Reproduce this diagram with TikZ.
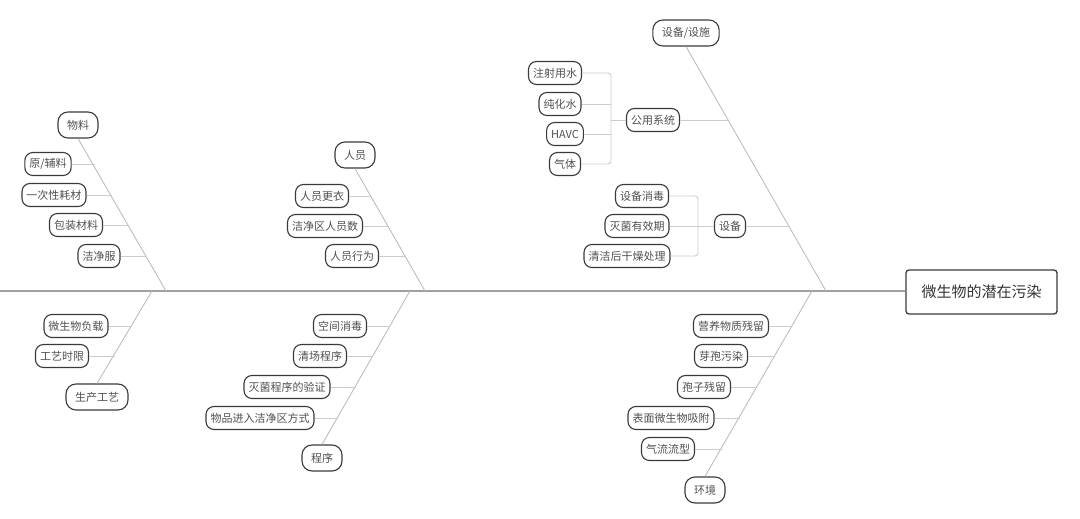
\documentclass[tikz,border=0pt]{standalone}
\usepackage{fontspec}
\setmainfont{Noto Sans CJK SC}
\definecolor{boxline}{HTML}{3A3A3A}
\definecolor{inkgray}{HTML}{505050}
\definecolor{spinegray}{HTML}{A0A0A0}
\definecolor{bonegray}{HTML}{BDBDBD}
\definecolor{twiggray}{HTML}{CCCCCC}
\tikzset{
  leaf/.style={draw=boxline, line width=1.1pt, rounded corners=8pt, minimum height=23pt,
    inner xsep=4.5pt, text=inkgray, font=\fontsize{11}{12}\selectfont},
  cause/.style={leaf, minimum height=26pt, inner xsep=9pt, rounded corners=10pt},
  bone/.style={draw=bonegray, line width=0.9pt},
  twig/.style={draw=twiggray, line width=0.9pt},
  spine/.style={draw=spinegray, line width=2.8pt}
}
\begin{document}
\begin{tikzpicture}[x=1pt,y=-1pt]
\useasboundingbox (0,0) rectangle (1080,519);
% head and spine
\node[draw=boxline, line width=1.3pt, rounded corners=3pt, minimum width=151pt, minimum height=44pt,
  text=black!80, font=\fontsize{15}{16}\selectfont] (head) at (981.5,292) {微生物的潜在污染};
\coordinate (tail) at (0,291);
\draw[spine] (tail) -- (head.west |- tail);
\coordinate (s1) at (166,291);
\coordinate (s2) at (152,291);
\coordinate (s3) at (425,291);
\coordinate (s4) at (410,291);
\coordinate (s5) at (826,291);
\coordinate (s6) at (812,291);
% material
\node[cause] (wl) at (78,125) {物料};
\draw[bone] (wl.south) -- (s1);
\node[leaf] (wl1) at (48,164) {原/辅料};      \coordinate (wl1b) at (94.6,164);  \draw[twig] (wl1) -- (wl1b);
\node[leaf] (wl2) at (54,195) {一次性耗材};   \coordinate (wl2b) at (112,195);   \draw[twig] (wl2) -- (wl2b);
\node[leaf] (wl3) at (76,225) {包装材料};     \coordinate (wl3b) at (129,225);   \draw[twig] (wl3) -- (wl3b);
\node[leaf] (wl4) at (99,256) {洁净服};       \coordinate (wl4b) at (146,256);   \draw[twig] (wl4) -- (wl4b);
% process
\node[cause] (gy) at (97,397) {生产工艺};
\draw[bone] (s2) -- (gy.north);
\node[leaf] (gy1) at (76,326) {微生物负载};   \coordinate (gy1b) at (132,326);   \draw[twig] (gy1) -- (gy1b);
\node[leaf] (gy2) at (62,356) {工艺时限};     \coordinate (gy2b) at (115,356);   \draw[twig] (gy2) -- (gy2b);
% personnel
\node[cause] (ry) at (355,155) {人员};
\draw[bone] (ry.south) -- (s3);
\node[leaf] (ry1) at (322,196) {人员更衣};     \coordinate (ry1b) at (371,196);   \draw[twig] (ry1) -- (ry1b);
\node[leaf] (ry2) at (325,226) {洁净区人员数}; \coordinate (ry2b) at (388,226);   \draw[twig] (ry2) -- (ry2b);
\node[leaf] (ry3) at (352,256) {人员行为};     \coordinate (ry3b) at (405,256);   \draw[twig] (ry3) -- (ry3b);
% procedure
\node[cause] (cx) at (322,458) {程序};
\draw[bone] (s4) -- (cx.north);
\node[leaf] (cx1) at (340,326) {空间消毒};           \coordinate (cx1b) at (390,326);  \draw[twig] (cx1) -- (cx1b);
\node[leaf] (cx2) at (320,356) {清场程序};           \coordinate (cx2b) at (373,356);  \draw[twig] (cx2) -- (cx2b);
\node[leaf] (cx3) at (287,387) {灭菌程序的验证};     \coordinate (cx3b) at (356,387);  \draw[twig] (cx3) -- (cx3b);
\node[leaf] (cx4) at (260,418) {物品进入洁净区方式}; \coordinate (cx4b) at (338,418);  \draw[twig] (cx4) -- (cx4b);
% equipment / facilities
\node[cause] (sb) at (686,33) {设备/设施};
\draw[bone] (sb.south) -- (s5);
\node[leaf] (gx) at (653,120) {公用系统};  \coordinate (gxb) at (729,120);  \draw[twig] (gx) -- (gxb);
\node[leaf] (sb2) at (730,226) {设备};     \coordinate (sb2b) at (789,226); \draw[twig] (sb2) -- (sb2b);
\coordinate (jn1) at (611,120);
\node[leaf] (gx1) at (555,73) {注射用水};
\node[leaf] (gx2) at (560,104) {纯化水};
\node[leaf] (gx3) at (565,134) {HAVC};
\node[leaf] (gx4) at (565,164) {气体};
\draw[twig, rounded corners=3pt] (gx1.east) -| (jn1);
\draw[twig, rounded corners=3pt] (gx4.east) -| (jn1);
\draw[twig] (gx2.east) -- (gx2.east -| jn1);
\draw[twig] (gx3.east) -- (gx3.east -| jn1);
\draw[twig] (jn1) -- (gx.west);
\coordinate (jn2) at (698,226);
\node[leaf] (sbb1) at (642,196) {设备消毒};
\node[leaf] (sbb2) at (637,226) {灭菌有效期};
\node[leaf] (sbb3) at (627,256) {清洁后干燥处理};
\draw[twig, rounded corners=3pt] (sbb1.east) -| (jn2);
\draw[twig, rounded corners=3pt] (sbb3.east) -| (jn2);
\draw[twig] (sbb2.east) -- (sb2.west);
% environment
\node[cause] (hj) at (705,490) {环境};
\draw[bone] (s6) -- (hj.north);
\node[leaf] (hj1) at (731,326) {营养物质残留};   \coordinate (hj1b) at (792,326);  \draw[twig] (hj1) -- (hj1b);
\node[leaf] (hj2) at (721,356) {芽孢污染};       \coordinate (hj2b) at (775,356);  \draw[twig] (hj2) -- (hj2b);
\node[leaf] (hj3) at (704,387) {孢子残留};       \coordinate (hj3b) at (757,387);  \draw[twig] (hj3) -- (hj3b);
\node[leaf] (hj4) at (671,418) {表面微生物吸附}; \coordinate (hj4b) at (740,418);  \draw[twig] (hj4) -- (hj4b);
\node[leaf] (hj5) at (668,449) {气流流型};       \coordinate (hj5b) at (722,449);  \draw[twig] (hj5) -- (hj5b);
\end{tikzpicture}
\end{document}
